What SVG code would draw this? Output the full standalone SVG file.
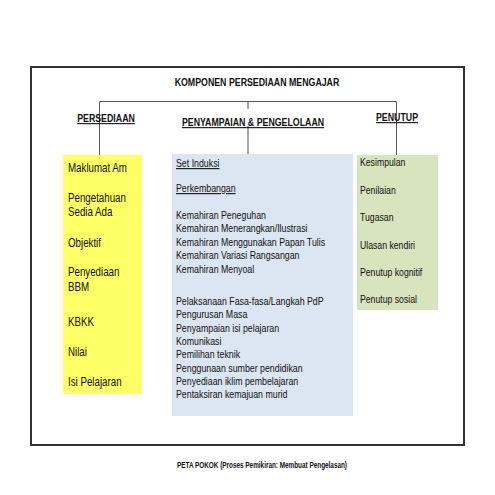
<svg xmlns="http://www.w3.org/2000/svg" width="495" height="495" viewBox="0 0 495 495">
<style>
text{font-family:"Liberation Sans",Arial,sans-serif;fill:#111;}
.h{font-weight:bold;font-size:11px;}
.hu{font-weight:bold;font-size:11px;text-decoration:underline;}
.y{font-size:12.5px;}
.b{font-size:11px;}
.u{text-decoration:underline;}
.g{font-size:11px;}
.cap{font-weight:bold;font-size:8.5px;}
.ln{stroke:#555;stroke-width:1;fill:none;}
</style>
<rect x="0" y="0" width="495" height="495" fill="#fff"/>
<rect x="31" y="67" width="433" height="378" fill="#fff" stroke="#333" stroke-width="2"/>
<g id="connectors">
<path class="ln" d="M99.5 101.5H396.5M99.5 101.5V155M248 101.5V109M248 126V155M396.5 101.5V155"/>
</g>
<g id="title" transform="translate(257,0) scale(0.8,1)">
<text class="h" x="0" y="86" text-anchor="middle">KOMPONEN PERSEDIAAN MENGAJAR</text>
</g>
<g id="persediaan" transform="translate(106,0) scale(0.8,1)">
<text class="hu" x="0" y="122" text-anchor="middle">PERSEDIAAN</text>
</g>
<g id="penyampaian" transform="translate(253,0) scale(0.8,1)">
<text class="hu" x="0" y="126" text-anchor="middle">PENYAMPAIAN &amp; PENGELOLAAN</text>
</g>
<g id="penutup" transform="translate(397,0) scale(0.8,1)">
<text class="hu" x="0" y="121" text-anchor="middle">PENUTUP</text>
</g>
<g id="box-persediaan">
<rect x="63" y="155" width="79" height="239" fill="#ffff66"/>
<g transform="translate(68,0) scale(0.78,1)">
<text class="y" x="0" y="172">Maklumat Am</text>
<text class="y" x="0" y="202">Pengetahuan</text>
<text class="y" x="0" y="216">Sedia Ada</text>
<text class="y" x="0" y="247">Objektif</text>
<text class="y" x="0" y="276">Penyediaan</text>
<text class="y" x="0" y="291">BBM</text>
<text class="y" x="0" y="326">KBKK</text>
<text class="y" x="0" y="356">Nilai</text>
<text class="y" x="0" y="386">Isi Pelajaran</text>
</g>
</g>
<g id="box-penyampaian">
<rect x="172" y="154" width="181" height="262" fill="#dce6f2"/>
<g transform="translate(176,0) scale(0.8,1)">
<text class="b u" x="0" y="167">Set Induksi</text>
<text class="b u" x="0" y="192">Perkembangan</text>
<text class="b" x="0" y="219">Kemahiran Peneguhan</text>
<text class="b" x="0" y="232.5">Kemahiran Menerangkan/Ilustrasi</text>
<text class="b" x="0" y="246">Kemahiran Menggunakan Papan Tulis</text>
<text class="b" x="0" y="259.5">Kemahiran Variasi Rangsangan</text>
<text class="b" x="0" y="273">Kemahiran Menyoal</text>
<text class="b" x="0" y="305">Pelaksanaan Fasa-fasa/Langkah PdP</text>
<text class="b" x="0" y="318.3">Pengurusan Masa</text>
<text class="b" x="0" y="331.7">Penyampaian isi pelajaran</text>
<text class="b" x="0" y="345">Komunikasi</text>
<text class="b" x="0" y="358.3">Pemilihan teknik</text>
<text class="b" x="0" y="371.7">Penggunaan sumber pendidikan</text>
<text class="b" x="0" y="385">Penyediaan iklim pembelajaran</text>
<text class="b" x="0" y="398.3">Pentaksiran kemajuan murid</text>
</g>
</g>
<g id="box-penutup">
<rect x="357" y="155" width="81" height="155" fill="#d7e4bd"/>
<g transform="translate(360,0) scale(0.79,1)">
<text class="g" x="0" y="166.5">Kesimpulan</text>
<text class="g" x="0" y="194">Penilaian</text>
<text class="g" x="0" y="221.5">Tugasan</text>
<text class="g" x="0" y="249">Ulasan kendiri</text>
<text class="g" x="0" y="276">Penutup kognitif</text>
<text class="g" x="0" y="303.5">Penutup sosial</text>
</g>
</g>
<g id="caption">
<text class="cap" x="262" y="468" text-anchor="middle" textLength="170" lengthAdjust="spacingAndGlyphs">PETA POKOK (Proses Pemikiran: Membuat Pengelasan)</text>
</g>
</svg>
